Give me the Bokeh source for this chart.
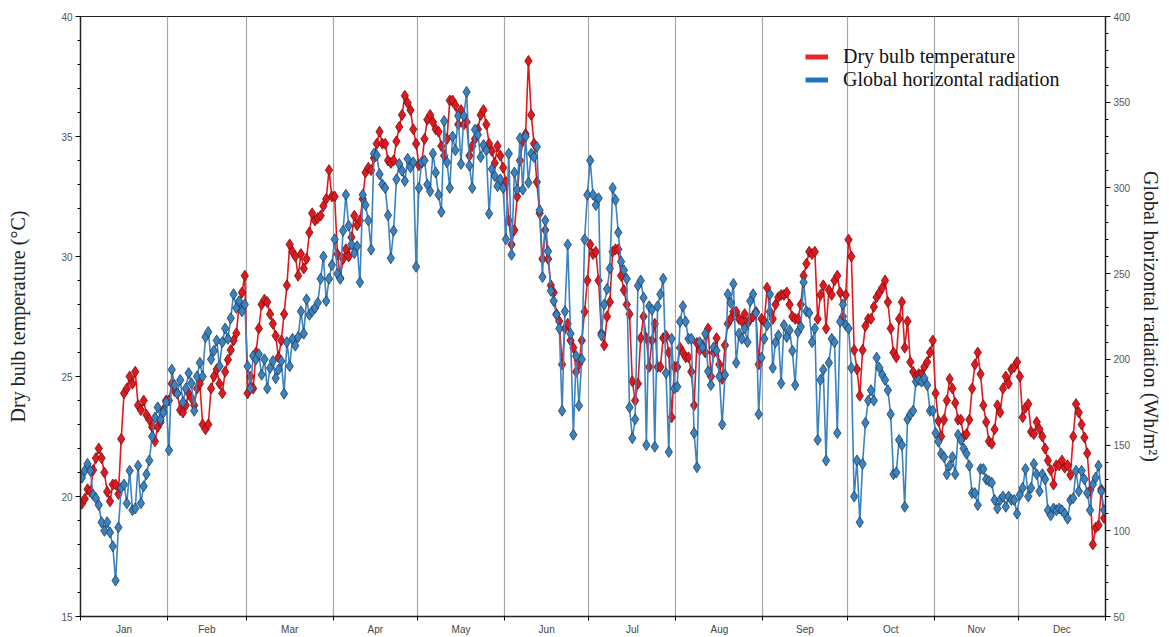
from bokeh.plotting import figure
from bokeh.models import Range1d, LinearAxis, FixedTicker, Legend, LegendItem, ColumnDataSource
from bokeh.embed import file_html
from bokeh.resources import INLINE

months = ["Jan", "Feb", "Mar", "Apr", "May", "Jun", "Jul", "Aug", "Sep", "Oct", "Nov", "Dec"]
month_days = [31, 28, 31, 30, 31, 30, 31, 31, 30, 31, 30, 31]

# Dry bulb temperature (deg C), daily
temp_jan = [19.7, 19.9, 20.3, 20.2, 21.1, 21.6, 22.0, 21.6, 21.0, 20.2, 19.8, 20.5, 20.5, 20.1, 22.4, 24.3,
            24.5, 25.0, 24.7, 25.2, 23.8, 23.6, 24.0, 23.4, 23.2, 22.9, 22.3, 22.9, 23.1, 23.6, 24.0]
temp_feb = [24.0, 24.7, 24.4, 24.3, 23.6, 23.5, 23.8, 24.3, 24.1, 23.8, 24.5, 24.7, 23.0, 22.8, 23.0, 24.5,
            25.0, 25.3, 24.7, 24.3, 25.2, 25.7, 26.1, 26.5, 26.8, 28.0, 28.5, 29.2]
temp_mar = [24.3, 25.0, 24.5, 26.0, 27.0, 28.0, 28.2, 28.1, 27.6, 27.2, 26.7, 25.8, 26.5, 27.6, 28.8, 30.5,
            30.2, 30.0, 29.2, 30.1, 29.5, 29.9, 31.0, 31.8, 31.5, 31.6, 31.7, 32.1, 32.4, 33.6, 32.5]
temp_apr = [32.5, 30.1, 29.1, 29.9, 30.3, 30.0, 30.8, 31.7, 31.3, 31.5, 32.4, 33.5, 33.7, 33.6, 34.1, 34.7,
            35.2, 34.7, 34.7, 34.0, 33.9, 34.0, 34.8, 35.4, 35.9, 36.7, 36.4, 36.1, 35.3, 34.7]
temp_may = [33.8, 33.9, 34.9, 35.7, 35.9, 35.6, 35.3, 35.2, 34.6, 34.2, 34.9, 36.5, 36.5, 36.3, 35.5, 36.1,
            35.5, 35.6, 34.2, 34.6, 34.9, 35.3, 35.9, 36.1, 35.5, 34.7, 34.4, 33.9, 34.6, 34.2, 33.7]
temp_jun = [33.1, 31.5, 30.5, 31.1, 32.5, 34.0, 34.8, 35.1, 38.15, 35.9, 34.7, 33.1, 31.8, 29.9, 31.1, 29.9,
            28.8, 28.5, 27.6, 27.3, 25.5, 27.0, 27.2, 26.5, 26.2, 25.2, 25.5, 26.5, 27.7, 29.0]
temp_jul = [30.5, 30.1, 30.2, 29.0, 26.8, 26.3, 27.5, 28.1, 30.2, 30.3, 30.3, 29.2, 28.6, 28.0, 27.6, 24.8,
            24.0, 24.7, 26.6, 27.5, 26.6, 25.4, 26.5, 27.2, 25.4, 25.4, 26.6, 26.7, 26.0, 23.3, 25.4]
temp_aug = [25.4, 26.2, 26.0, 25.8, 25.8, 25.2, 23.8, 26.4, 26.1, 26.3, 26.0, 27.0, 25.0, 26.0, 26.6, 25.5,
            24.9, 26.3, 27.2, 27.4, 27.7, 27.7, 27.4, 27.3, 27.6, 27.2, 27.4, 27.5, 27.7, 25.5, 27.4]
temp_sep = [27.3, 28.7, 27.7, 27.4, 28.0, 28.3, 28.4, 28.4, 28.5, 28.0, 27.5, 27.4, 27.4, 28.0, 29.2, 29.7,
            30.2, 30.1, 30.2, 27.4, 28.4, 28.8, 27.0, 28.6, 28.4, 29.0, 29.2, 28.5, 27.5, 28.4]
temp_oct = [30.7, 30.0, 26.1, 25.3, 24.2, 26.1, 27.1, 27.4, 27.4, 27.9, 28.3, 28.5, 28.7, 29.0, 28.1, 27.0,
            26.0, 25.8, 27.4, 28.1, 26.2, 27.3, 25.6, 25.2, 25.0, 25.1, 25.1, 25.4, 25.6, 26.0, 26.5]
temp_nov = [24.3, 23.15, 22.5, 23.2, 24.0, 24.9, 24.5, 23.9, 23.2, 23.2, 22.5, 22.6, 23.2, 24.5, 25.5, 26.0,
            25.1, 23.8, 23.1, 22.3, 22.2, 22.8, 23.8, 23.5, 24.5, 25.0, 24.7, 25.3, 25.4, 25.6]
temp_dec = [25.0, 23.3, 23.7, 23.85, 22.7, 22.6, 23.1, 22.8, 22.5, 22.0, 21.5, 21.1, 20.5, 21.3, 21.3, 21.5,
            21.2, 21.3, 20.9, 22.5, 23.85, 23.5, 23.0, 22.46, 21.8, 20.25, 18.0, 18.7, 18.8, 20.3, 19.1]

# Global horizontal radiation (Wh/m2), daily
rad_jan = [131, 135, 139, 135, 121, 119, 115, 105, 100, 105, 99, 91, 71, 102, 125, 127,
           116, 135, 112, 113, 138, 116, 126, 133, 141, 155, 166, 172, 165, 169, 175]
rad_feb = [147, 194, 185, 180, 188, 175, 183, 192, 186, 170, 190, 198, 190, 213, 216, 200,
           205, 211, 196, 210, 218, 212, 224, 238, 230, 234, 228, 232]
rad_mar = [196, 183, 202, 200, 203, 191, 200, 183, 195, 199, 189, 194, 199, 180, 210, 196,
           212, 208, 213, 228, 215, 235, 226, 228, 230, 233, 247, 260, 234, 247, 255]
rad_apr = [270, 250, 247, 275, 296, 278, 267, 262, 266, 245, 296, 290, 281, 264, 320, 319,
           308, 302, 300, 284, 259, 275, 305, 314, 310, 304, 317, 312, 315, 254]
rad_may = [300, 315, 316, 302, 298, 320, 309, 296, 286, 339, 315, 300, 330, 322, 342, 314,
           342, 356, 313, 300, 334, 331, 318, 325, 322, 285, 311, 307, 301, 305, 300]
rad_jun = [270, 320, 261, 309, 299, 329, 299, 330, 303, 320, 318, 324, 287, 248, 281, 263,
           240, 234, 226, 218, 170, 228, 267, 215, 156, 202, 173, 200, 270, 296]
rad_jul = [316, 296, 290, 294, 214, 232, 241, 253, 300, 293, 274, 257, 252, 247, 172, 154,
           165, 243, 246, 236, 150, 231, 229, 149, 231, 238, 247, 192, 146, 212, 183]
rad_aug = [184, 222, 231, 222, 212, 212, 157, 137, 210, 207, 215, 193, 185, 207, 205, 190,
           162, 191, 238, 233, 244, 198, 215, 212, 218, 210, 234, 238, 227, 168, 201]
rad_sep = [212, 220, 238, 195, 210, 214, 186, 220, 213, 217, 205, 185, 216, 219, 245, 228,
           227, 210, 218, 153, 188, 194, 141, 198, 212, 210, 157, 222, 232, 220]
rad_oct = [218, 195, 120, 141, 105, 139, 163, 176, 182, 176, 201, 195, 191, 188, 182, 168,
           133, 134, 153, 150, 114, 165, 168, 170, 187, 188, 187, 189, 185, 170, 170]
rad_nov = [157, 152, 145, 143, 133, 138, 143, 133, 156, 153, 148, 145, 138, 122, 122, 115,
           136, 136, 130, 129, 128, 118, 113, 118, 120, 114, 120, 118, 118, 110]
rad_dec = [121, 125, 136, 120, 125, 139, 133, 123, 133, 130, 112, 109, 113, 112, 113, 112,
           110, 107, 118, 119, 135, 123, 135, 130, 122, 112, 127, 131, 138, 123, 112]

temps = (temp_jan + temp_feb + temp_mar + temp_apr + temp_may + temp_jun +
         temp_jul + temp_aug + temp_sep + temp_oct + temp_nov + temp_dec)
rads = (rad_jan + rad_feb + rad_mar + rad_apr + rad_may + rad_jun +
        rad_jul + rad_aug + rad_sep + rad_oct + rad_nov + rad_dec)

days = [d + 0.5 for d in range(len(temps))]
bounds = [0]
for n in month_days:
    bounds.append(bounds[-1] + n)
centers = [(bounds[i] + bounds[i + 1]) / 2 for i in range(12)]

RED = "#e3181e"
RED_EDGE = "#6e1010"
BLUE = "#3b82c0"
BLUE_EDGE = "#1d3b57"

p = figure(width=1169, height=637, output_backend="svg", toolbar_location=None,
           x_range=Range1d(0, 365), y_range=Range1d(15, 40),
           min_border_left=80, min_border_right=64, min_border_top=16, min_border_bottom=17)
p.extra_y_ranges = {"rad": Range1d(50, 400)}

p.outline_line_color = "#222222"
p.outline_line_width = 1
p.ygrid.visible = False
p.xgrid.ticker = FixedTicker(ticks=bounds[1:-1])
p.xgrid.grid_line_color = "#a6a6a6"
p.xgrid.grid_line_width = 1.2

src = ColumnDataSource(dict(x=days, t=temps, r=rads))

p.line("x", "t", source=src, line_color=RED, line_width=1.6)
p.scatter("x", "t", source=src, marker="diamond", size=11, fill_color=RED,
          line_color=RED_EDGE, line_width=0.8)
p.line("x", "r", source=src, y_range_name="rad", line_color=BLUE, line_width=1.6)
p.scatter("x", "r", source=src, y_range_name="rad", marker="diamond", size=11,
          fill_color=BLUE, line_color=BLUE_EDGE, line_width=0.8)

TICK_FONT = "Liberation Sans"
TICK_COLOR = "#555555"

# left axis
ya = p.yaxis[0]
ya.ticker = FixedTicker(ticks=[15, 20, 25, 30, 35, 40], minor_ticks=list(range(15, 41)))
ya.axis_label = "Dry bulb temperature (\u00b0C)"
ya.axis_label_text_font = "Liberation Serif"
ya.axis_label_text_font_style = "normal"
ya.axis_label_text_font_size = "20px"
ya.axis_label_text_color = "#222222"
ya.axis_label_standoff = 29
ya.major_label_text_font = TICK_FONT
ya.major_label_text_font_size = "10px"
ya.major_label_text_color = TICK_COLOR
ya.major_label_standoff = 3
ya.axis_line_color = "#222222"
ya.axis_line_width = 1.5
ya.major_tick_out = 5
ya.major_tick_in = 0
ya.minor_tick_out = 3
ya.minor_tick_in = 0

# right axis
ra = LinearAxis(y_range_name="rad",
                ticker=FixedTicker(ticks=list(range(50, 401, 50)), minor_ticks=list(range(50, 401, 10))))
ra.axis_label = "Global horizontal radiation (Wh/m\u00b2)"
ra.axis_label_text_font = "Liberation Serif"
ra.axis_label_text_font_style = "normal"
ra.axis_label_text_font_size = "20px"
ra.axis_label_text_color = "#222222"
ra.axis_label_standoff = 7
ra.major_label_text_font = TICK_FONT
ra.major_label_text_font_size = "10px"
ra.major_label_text_color = TICK_COLOR
ra.major_label_standoff = 3
ra.axis_line_color = "#222222"
ra.axis_line_width = 1.5
ra.major_tick_out = 5
ra.major_tick_in = 0
ra.minor_tick_out = 3
ra.minor_tick_in = 0
p.add_layout(ra, "right")

# bottom axis: labels at month centres, ticks at month boundaries
xa = p.xaxis[0]
xa.ticker = FixedTicker(ticks=centers, minor_ticks=bounds)
xa.major_label_overrides = {c: m for c, m in zip(centers, months)}
xa.major_label_text_font = TICK_FONT
xa.major_label_text_font_size = "10px"
xa.major_label_text_color = "#444444"
xa.major_label_standoff = 3
xa.major_tick_out = 0
xa.major_tick_in = 0
xa.minor_tick_out = 4
xa.minor_tick_in = 0
xa.axis_line_color = "#222222"
xa.axis_line_width = 1.5

# legend (swatch-only renderers, drawn with NaN so nothing shows in the plot)
nan = float("nan")
lr = p.line([0, 1], [nan, nan], line_color="#e8262a", line_width=5)
lb = p.line([0, 1], [nan, nan], line_color="#1f74c4", line_width=5)
legend = Legend(items=[LegendItem(label="Dry bulb temperature", renderers=[lr]),
                       LegendItem(label="Global horizontal radiation", renderers=[lb])],
                location=(725, 525), orientation="vertical",
                border_line_color=None, background_fill_alpha=0,
                padding=0, spacing=0, margin=0,
                glyph_width=23, glyph_height=21, label_height=21, label_standoff=15,
                label_text_font="Liberation Serif", label_text_font_size="20px",
                label_text_color="#111111")
p.add_layout(legend)

open("out.html", "w").write(file_html(p, INLINE))
